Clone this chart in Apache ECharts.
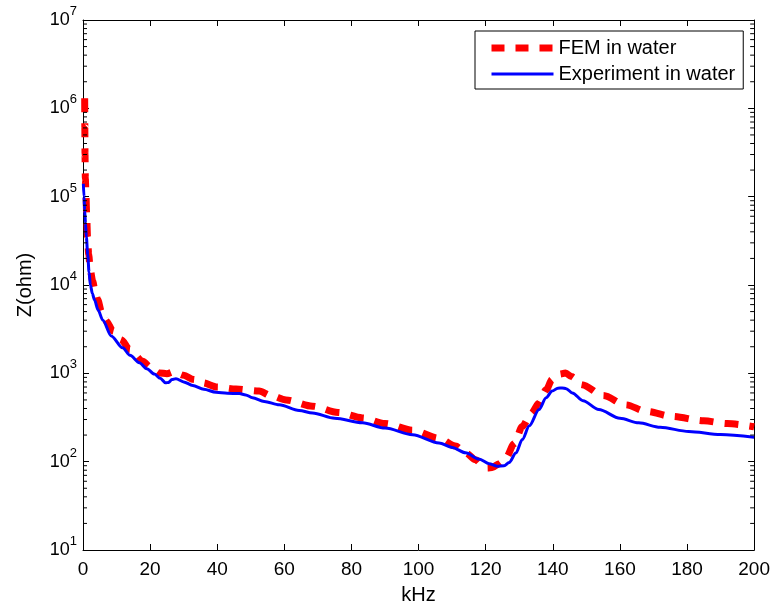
<!DOCTYPE html>
<html><head><meta charset="utf-8">
<script src="https://cdn.jsdelivr.net/npm/echarts@6/dist/echarts.min.js"></script>
<style>html,body{margin:0;padding:0;background:#fff}#c{width:773px;height:610px}</style>
</head><body><div id="c"></div>
<script>
// FEM in water (red dashed)
const femFreq = [0.5,0.55,0.6,0.7,0.9,1.1,1.35,1.7,2.2,2.9,3.6,4.4,5.5,6.9,9,11.4,14,17.8,20,22.8,25,27,30,33,35.7,40,45.6,52.5,56,60.5,68.4,76,83.3,90,98.2,106.1,111,114,117,119,120.5,122,124,126,128.5,130.9,133.5,135.9,138,139.8,142,143.8,145.5,148.7,155,161.7,168,175.5,185,192,200];
const femZ = [1.3e6,6e5,3e5,1.6e5,1e5,6e4,3.5e4,2.2e4,1.45e4,1.1e4,8500,6800,5000,3900,3000,2400,1850,1370,1180,1010,990,1040,950,850,780,700,665,630,560,500,425,360,313,270,227,184,150,126,105,92,85,86,95,110,160,250,350,460,650,850,980,1010,920,745,560,440,370,325,290,270,248];
// Experiment in water (blue solid)
const expFreq = [0.1,0.3,0.5,0.75,1.0,1.4,1.8,2.2,2.8,3.4,4.5,5.9,8.4,11.8,14,16.8,19,21.3,23,24.6,25.5,26.5,27.7,30,32.7,36,39.6,43,46.6,48.5,50.5,54,58.5,64.4,68.4,75,83.3,90,98.2,106.1,110,114,118,121,123.4,125.5,127,129,130.9,133,135.9,138,139.8,141.5,142.8,144,145.8,149,153.7,160,165.6,172,180.5,190,200];
const expZ = [1.4e5,1.0e5,7e4,5e4,3.5e4,2.2e4,1.4e4,1.0e4,8000,6800,5200,4000,2650,1950,1600,1320,1130,980,880,780,790,850,870,800,730,660,610,595,590,570,530,480,440,380,355,310,275,240,202,163,145,126,107,95,89,90,98,125,178,255,390,530,630,680,684,670,600,490,390,310,275,245,220,203,189];
const seriesNames = ['FEM in water', 'Experiment in water'];
const xMin = 0, xMax = 200, xStep = 20;
const yMin = 10, yMax = 1e7;

const minorTicks = [];
for (let e = 1; e < 7; e++) for (let k = 2; k <= 9; k++) minorTicks.push([xMin, k * Math.pow(10, e)]);

const FONT = '"Liberation Sans", Arial, Helvetica, sans-serif';
const chart = echarts.init(document.getElementById('c'));
const yLabel = {
  margin: 6, color: '#000', fontFamily: FONT,
  formatter: v => '{b|10}{s|' + Math.round(Math.log10(v)) + '}',
  rich: {
    b: {fontSize: 18, lineHeight: 18, fontFamily: FONT, color: '#000'},
    s: {fontSize: 13, lineHeight: 18, padding: [0, 0, 17, 0], fontFamily: FONT, color: '#000'}
  }
};
const axLine = {show: true, onZero: false, lineStyle: {color: '#000', width: 1}};
const hiddenSymbol = {color: 'rgba(0,0,0,0)', opacity: 0, borderWidth: 0};
chart.setOption({
  animation: false,
  backgroundColor: '#fff',
  grid: {left: 83, right: 18, top: 20, bottom: 60, containLabel: false},
  legend: {
    orient: 'vertical', left: 475, top: 31,
    padding: [7, 8, 5, 13], itemGap: 6, itemWidth: 62, itemHeight: 20,
    borderColor: '#000', borderWidth: 1, backgroundColor: '#fff', borderRadius: 0,
    textStyle: {fontSize: 20, fontFamily: FONT, color: '#000'},
    data: [
      {name: seriesNames[0], itemStyle: hiddenSymbol,
       lineStyle: {color: '#ff0000', width: 7, type: [13, 11], cap: 'butt'}},
      {name: seriesNames[1], itemStyle: hiddenSymbol,
       lineStyle: {color: '#0000ff', width: 3, type: 'solid'}}
    ]
  },
  xAxis: [
    {type: 'value', min: xMin, max: xMax, interval: xStep, position: 'bottom',
     axisLine: axLine, axisTick: {inside: true, length: 6, lineStyle: {color: '#000'}},
     axisLabel: {fontSize: 19, margin: 10, color: '#000', fontFamily: FONT},
     splitLine: {show: false},
     name: 'kHz', nameLocation: 'middle', nameGap: 35,
     nameTextStyle: {fontSize: 20, color: '#000', fontFamily: FONT}},
    {type: 'value', min: xMin, max: xMax, interval: xStep, position: 'top',
     axisLine: axLine, axisTick: {inside: true, length: 6, lineStyle: {color: '#000'}},
     axisLabel: {show: false}, splitLine: {show: false}}
  ],
  yAxis: [
    {type: 'log', logBase: 10, min: yMin, max: yMax, interval: 1, position: 'left',
     axisLine: axLine, axisTick: {inside: true, length: 6, lineStyle: {color: '#000'}},
     axisLabel: yLabel, splitLine: {show: false},
     name: 'Z(ohm)', nameLocation: 'middle', nameGap: 48, nameRotate: 90,
     nameTextStyle: {fontSize: 20, color: '#000', fontFamily: FONT}},
    {type: 'log', logBase: 10, min: yMin, max: yMax, interval: 1, position: 'right',
     axisLine: axLine, axisTick: {inside: true, length: 6, lineStyle: {color: '#000'}},
     axisLabel: {show: false}, splitLine: {show: false}}
  ],
  series: [
    {name: seriesNames[0], type: 'line', showSymbol: false, symbol: 'none',
     smooth: 0.3, smoothMonotone: 'x',
     data: femFreq.map((f, i) => [f, femZ[i]]),
     lineStyle: {color: '#ff0000', width: 7, type: [14, 11], cap: 'butt'},
     itemStyle: {color: '#ff0000'}, z: 2},
    {name: seriesNames[1], type: 'line', showSymbol: false, symbol: 'none',
     smooth: 0.3, smoothMonotone: 'x',
     data: expFreq.map((f, i) => [f, expZ[i]]),
     lineStyle: {color: '#0000ff', width: 3},
     itemStyle: {color: '#0000ff'}, z: 3},
    {type: 'custom', silent: true, data: minorTicks, z: 4,
     renderItem: (params, api) => {
       const v = api.value(1);
       const l = api.coord([xMin, v]);
       const r = api.coord([xMax, v]);
       return {type: 'group', children: [
         {type: 'line', shape: {x1: l[0], y1: l[1], x2: l[0] + 4, y2: l[1]}, style: {stroke: '#000', lineWidth: 1}},
         {type: 'line', shape: {x1: r[0], y1: r[1], x2: r[0] - 4, y2: r[1]}, style: {stroke: '#000', lineWidth: 1}}
       ]};
     }}
  ]
});
</script></body></html>
